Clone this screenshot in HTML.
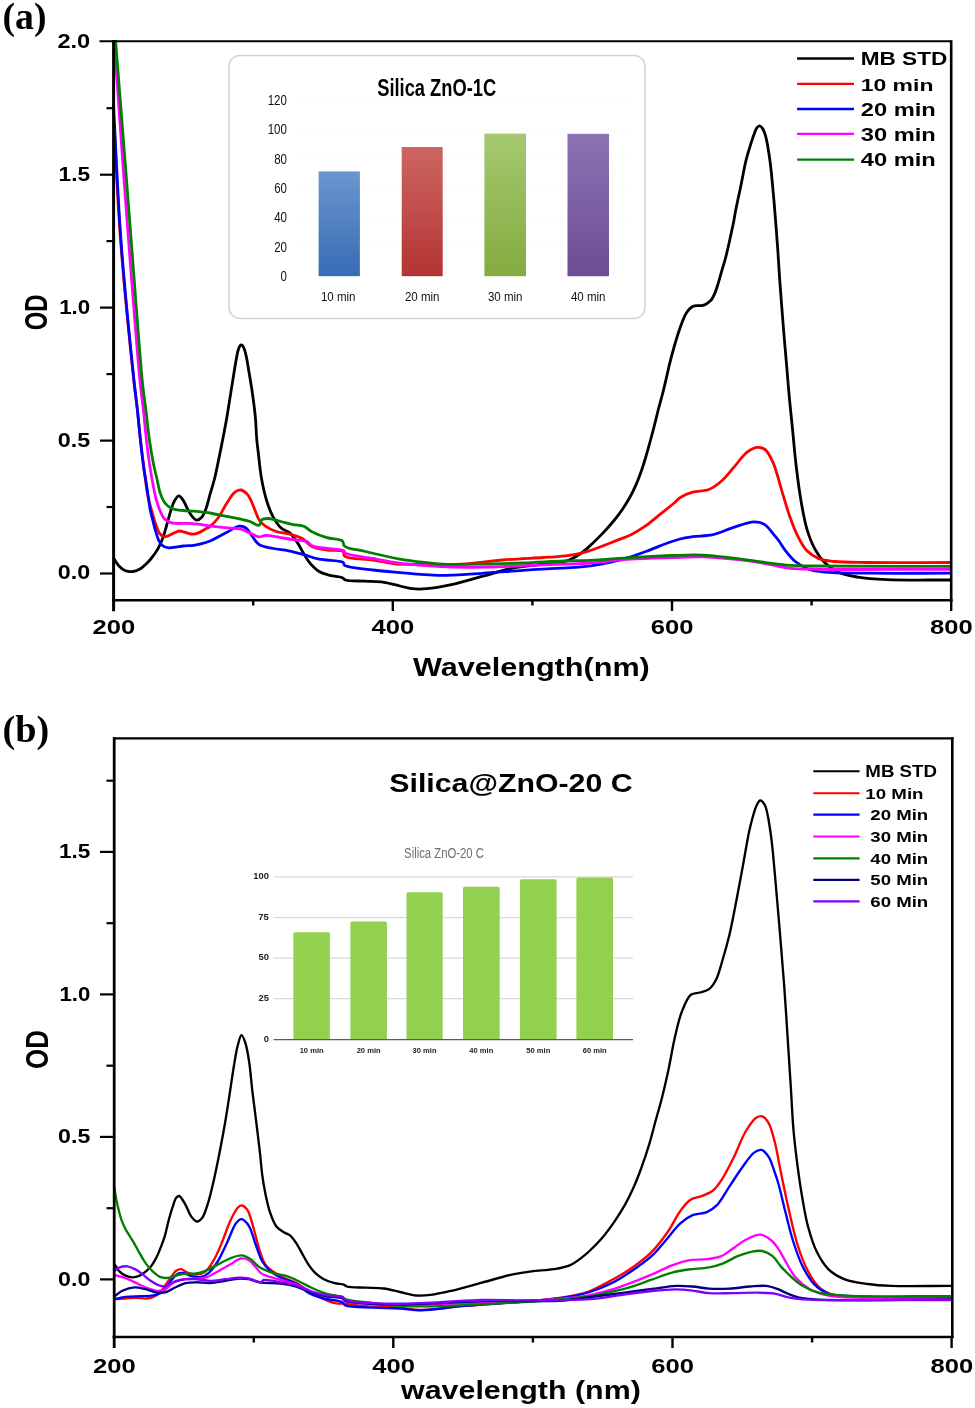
<!DOCTYPE html>
<html><head><meta charset="utf-8"><title>UV-Vis spectra</title><style>html,body{margin:0;padding:0;background:#fff;width:975px;height:1408px;overflow:hidden}svg{display:block;font-family:"Liberation Sans",sans-serif;will-change:transform}</style></head><body>
<svg width="975" height="1408" viewBox="0 0 975 1408">
<defs><linearGradient id="gb" x1="0" y1="0" x2="0" y2="1"><stop offset="0" stop-color="#6b95cf"/><stop offset="1" stop-color="#386cb4"/></linearGradient><linearGradient id="gr" x1="0" y1="0" x2="0" y2="1"><stop offset="0" stop-color="#cc6662"/><stop offset="1" stop-color="#b43433"/></linearGradient><linearGradient id="gg" x1="0" y1="0" x2="0" y2="1"><stop offset="0" stop-color="#a6c870"/><stop offset="1" stop-color="#84ab3f"/></linearGradient><linearGradient id="gp" x1="0" y1="0" x2="0" y2="1"><stop offset="0" stop-color="#8c72b2"/><stop offset="1" stop-color="#6c4d96"/></linearGradient><clipPath id="ca"><rect x="112" y="40" width="841" height="561"/></clipPath><clipPath id="cb"><rect x="112" y="737" width="842" height="601"/></clipPath></defs>
<rect width="975" height="1408" fill="#fff"/>
<rect x="229" y="55.5" width="416" height="263" rx="11" ry="11" fill="#fff" stroke="#d4d4d4" stroke-width="1.6"/>
<line x1="298" y1="100.2" x2="632" y2="100.2" stroke="#fafafa" stroke-width="1"/>
<line x1="298" y1="129.6" x2="632" y2="129.6" stroke="#fafafa" stroke-width="1"/>
<line x1="298" y1="158.9" x2="632" y2="158.9" stroke="#fafafa" stroke-width="1"/>
<line x1="298" y1="188.2" x2="632" y2="188.2" stroke="#fafafa" stroke-width="1"/>
<line x1="298" y1="217.6" x2="632" y2="217.6" stroke="#fafafa" stroke-width="1"/>
<line x1="298" y1="246.9" x2="632" y2="246.9" stroke="#fafafa" stroke-width="1"/>
<rect x="318.6" y="171.4" width="41.3" height="104.8" fill="url(#gb)"/>
<rect x="401.7" y="147" width="41.0" height="129.2" fill="url(#gr)"/>
<rect x="484.4" y="133.6" width="41.6" height="142.6" fill="url(#gg)"/>
<rect x="567.5" y="133.8" width="41.5" height="142.4" fill="url(#gp)"/>
<text transform="translate(267.71,105.06) scale(0.8200,1)" font-size="14.08" font-family='"Liberation Sans", sans-serif' font-weight="normal" fill="#111">120</text>
<text transform="translate(267.71,134.41) scale(0.8200,1)" font-size="14.08" font-family='"Liberation Sans", sans-serif' font-weight="normal" fill="#111">100</text>
<text transform="translate(274.18,163.76) scale(0.8200,1)" font-size="14.08" font-family='"Liberation Sans", sans-serif' font-weight="normal" fill="#111">80</text>
<text transform="translate(274.18,193.11) scale(0.8200,1)" font-size="14.08" font-family='"Liberation Sans", sans-serif' font-weight="normal" fill="#111">60</text>
<text transform="translate(274.18,222.46) scale(0.8200,1)" font-size="14.08" font-family='"Liberation Sans", sans-serif' font-weight="normal" fill="#111">40</text>
<text transform="translate(274.18,251.81) scale(0.8200,1)" font-size="14.08" font-family='"Liberation Sans", sans-serif' font-weight="normal" fill="#111">20</text>
<text transform="translate(280.59,281.16) scale(0.8200,1)" font-size="14.08" font-family='"Liberation Sans", sans-serif' font-weight="normal" fill="#111">0</text>
<text transform="translate(320.90,301.47) scale(0.8739,1)" font-size="13.20" font-family='"Liberation Sans", sans-serif' font-weight="normal" fill="#111">10 min</text>
<text transform="translate(404.90,301.47) scale(0.8739,1)" font-size="13.20" font-family='"Liberation Sans", sans-serif' font-weight="normal" fill="#111">20 min</text>
<text transform="translate(487.90,301.47) scale(0.8739,1)" font-size="13.20" font-family='"Liberation Sans", sans-serif' font-weight="normal" fill="#111">30 min</text>
<text transform="translate(570.90,301.47) scale(0.8739,1)" font-size="13.20" font-family='"Liberation Sans", sans-serif' font-weight="normal" fill="#111">40 min</text>
<text transform="translate(377.20,95.96) scale(0.7602,1)" font-size="24.08" font-family='"Liberation Sans", sans-serif' font-weight="bold" fill="#000">Silica ZnO-1C</text>
<g clip-path="url(#ca)" fill="none" stroke-linejoin="round" stroke-linecap="round">
<path d="M113.80,558.50 C115.60,561.07 117.15,564.09 119.20,566.20 C121.06,568.11 123.08,569.92 125.40,570.80 C127.72,571.68 130.57,571.86 133.10,571.50 C135.71,571.13 138.58,569.84 140.80,568.50 C142.82,567.28 144.34,565.58 146.00,564.00 C147.67,562.41 149.13,561.03 150.80,559.00 C153.03,556.29 155.87,552.48 157.90,548.90 C159.95,545.29 161.48,541.49 163.00,537.40 C164.65,532.94 165.95,527.75 167.30,523.10 C168.58,518.70 169.60,514.13 170.90,510.20 C172.03,506.79 172.98,503.34 174.50,500.80 C175.73,498.74 177.34,495.86 178.80,495.80 C180.21,495.75 181.80,498.29 183.10,500.10 C184.74,502.37 185.91,505.99 187.40,508.70 C188.79,511.23 190.03,513.92 191.70,515.90 C193.18,517.66 194.97,520.04 196.70,520.20 C198.32,520.35 200.28,518.82 201.70,517.30 C203.54,515.35 204.73,512.00 206.00,508.70 C207.58,504.60 208.61,499.29 210.00,494.40 C211.47,489.24 213.16,484.23 214.60,478.50 C216.26,471.88 217.80,463.66 219.20,456.90 C220.44,450.93 221.43,446.03 222.60,440.00 C223.95,433.08 225.49,425.21 226.80,417.70 C228.13,410.08 229.27,402.30 230.50,394.60 C231.73,386.90 233.13,378.03 234.20,371.50 C234.99,366.70 235.58,362.82 236.30,359.00 C236.92,355.75 237.47,352.36 238.20,350.00 C238.69,348.40 239.19,347.01 239.80,346.10 C240.20,345.50 240.63,344.88 241.10,344.80 C241.53,344.73 242.07,345.08 242.50,345.50 C243.16,346.15 243.67,347.44 244.20,348.80 C244.98,350.80 245.63,353.49 246.30,356.50 C247.22,360.66 247.98,365.96 248.90,371.50 C250.05,378.37 251.52,386.89 252.60,394.60 C253.68,402.29 254.70,410.06 255.40,417.70 C256.09,425.19 256.24,433.72 256.80,440.00 C257.21,444.62 257.62,447.22 258.20,452.00 C259.06,459.11 259.98,470.02 261.50,478.50 C262.93,486.48 264.74,494.67 266.90,501.50 C268.71,507.22 270.61,512.35 273.10,516.90 C275.33,520.97 277.78,524.94 280.80,527.70 C283.51,530.18 287.27,530.69 290.00,533.10 C292.97,535.72 295.39,539.63 297.70,543.10 C299.98,546.53 301.70,550.39 303.80,553.80 C305.80,557.05 307.53,560.22 310.00,563.10 C312.61,566.14 315.78,569.44 319.20,571.50 C322.48,573.48 326.24,574.38 330.00,575.40 C333.93,576.47 339.64,576.54 342.30,577.70 C343.78,578.34 343.79,579.41 345.40,580.00 C349.07,581.34 358.87,580.81 365.40,581.20 C371.66,581.57 377.90,581.46 383.80,582.30 C389.41,583.10 394.97,584.87 400.00,586.00 C404.38,586.98 408.01,588.23 412.30,588.70 C416.89,589.20 421.28,589.15 426.70,588.70 C433.83,588.11 442.69,586.46 451.30,584.60 C461.02,582.50 471.76,579.13 482.00,576.40 C492.26,573.66 502.47,570.25 512.80,568.20 C523.00,566.17 533.88,565.49 543.60,564.10 C552.35,562.85 561.73,562.61 568.50,560.30 C573.66,558.54 577.30,556.02 581.30,553.20 C585.37,550.33 588.96,546.70 592.70,543.20 C596.53,539.61 600.41,535.73 604.00,531.90 C607.50,528.16 610.87,524.35 614.00,520.50 C617.02,516.78 619.87,513.03 622.50,509.20 C625.06,505.46 627.44,501.65 629.60,497.80 C631.70,494.05 633.49,490.45 635.30,486.40 C637.28,481.97 639.19,476.96 640.90,472.20 C642.59,467.49 644.02,462.89 645.50,458.00 C647.06,452.84 648.52,447.42 650.00,442.00 C651.52,436.42 653.05,430.67 654.50,425.00 C655.95,419.34 657.30,413.38 658.70,408.00 C659.97,403.10 661.27,398.82 662.50,394.00 C663.80,388.90 665.06,383.45 666.30,378.20 C667.53,372.99 668.60,367.79 669.90,362.60 C671.20,357.39 672.65,352.07 674.10,347.00 C675.49,342.14 676.94,337.25 678.40,332.80 C679.71,328.80 681.05,324.87 682.40,321.50 C683.52,318.69 684.53,316.11 685.80,313.90 C686.90,312.00 688.08,310.20 689.40,308.90 C690.51,307.80 691.68,306.95 693.00,306.40 C694.32,305.85 695.86,305.73 697.30,305.60 C698.73,305.47 700.18,305.82 701.60,305.60 C703.05,305.37 704.52,304.91 705.90,304.20 C707.40,303.42 709.16,301.92 710.20,301.00 C710.86,300.41 711.16,300.17 711.70,299.40 C712.70,297.96 714.05,295.14 715.10,292.60 C716.35,289.56 717.40,285.87 718.50,282.30 C719.67,278.49 720.75,274.36 721.90,270.40 C723.05,266.43 724.33,262.49 725.40,258.50 C726.47,254.52 727.38,250.50 728.30,246.50 C729.21,242.53 730.04,238.58 730.90,234.60 C731.77,230.61 732.71,226.60 733.50,222.60 C734.28,218.63 734.83,214.66 735.60,210.70 C736.37,206.73 737.29,202.62 738.10,198.80 C738.85,195.24 739.59,191.91 740.30,188.50 C740.99,185.14 741.53,182.31 742.30,178.50 C743.32,173.44 744.55,166.33 745.90,160.80 C747.11,155.84 748.53,151.26 749.90,146.80 C751.17,142.66 752.51,138.32 753.80,134.90 C754.81,132.23 755.57,129.43 756.80,127.90 C757.63,126.87 758.66,125.84 759.60,125.90 C760.66,125.97 761.88,127.52 762.80,128.90 C764.08,130.83 764.92,133.73 765.80,136.90 C767.02,141.26 767.97,147.67 768.80,152.80 C769.58,157.58 770.12,161.76 770.70,166.70 C771.36,172.31 771.91,178.55 772.50,184.70 C773.12,191.17 773.73,197.84 774.30,204.60 C774.89,211.60 775.43,218.66 776.00,226.00 C776.60,233.77 777.22,241.69 777.80,250.00 C778.42,258.97 778.95,268.67 779.60,278.00 C780.25,287.34 780.97,296.59 781.70,306.00 C782.44,315.58 783.20,325.33 784.00,335.00 C784.80,344.67 785.66,354.10 786.50,364.00 C787.39,374.40 788.22,385.34 789.20,396.00 C790.18,406.67 791.28,416.81 792.40,428.00 C793.64,440.36 794.78,454.37 796.30,467.00 C797.74,479.00 799.28,491.09 801.20,502.00 C802.91,511.70 804.50,521.06 807.00,529.30 C809.17,536.45 811.65,543.04 814.80,548.80 C817.62,553.96 820.69,558.59 824.60,562.50 C828.49,566.39 833.00,569.80 838.20,572.20 C843.90,574.83 850.49,575.89 857.70,577.10 C866.42,578.56 875.36,579.07 887.00,579.60 C904.07,580.38 929.20,579.87 950.30,580.00" stroke="#000000" stroke-width="2.8"/>
<path d="M114.10,125.00 C116.20,162.67 117.41,198.21 120.40,238.00 C123.75,282.66 130.60,350.24 133.80,380.00 C135.27,393.68 136.30,399.94 137.40,409.90 C138.50,419.84 139.27,429.77 140.40,439.70 C141.53,449.67 142.95,460.10 144.20,469.60 C145.34,478.26 146.20,487.09 147.60,494.40 C148.73,500.29 150.10,505.08 151.50,510.20 C152.84,515.10 154.32,520.37 155.80,524.50 C156.97,527.76 157.84,530.98 159.40,533.10 C160.61,534.75 162.11,536.31 163.70,536.70 C165.22,537.07 167.01,536.19 168.70,535.60 C170.60,534.94 172.62,533.59 174.50,532.80 C176.21,532.08 177.76,531.09 179.50,531.00 C181.32,530.90 183.14,531.91 185.20,532.40 C187.62,532.97 190.60,534.26 193.10,534.20 C195.38,534.15 197.62,533.23 199.60,532.40 C201.43,531.63 202.90,530.49 204.60,529.50 C206.37,528.46 208.14,527.75 210.00,526.30 C212.46,524.38 215.21,521.72 217.70,518.50 C220.89,514.38 223.88,507.72 226.90,503.10 C229.50,499.12 231.82,494.43 234.60,492.30 C236.56,490.80 238.79,489.80 240.80,490.00 C242.90,490.21 245.33,492.27 246.90,493.80 C248.29,495.16 248.95,496.56 250.00,498.50 C251.51,501.29 253.07,505.62 254.60,509.20 C256.14,512.79 257.21,517.05 259.20,520.00 C260.92,522.55 262.87,524.39 265.40,526.20 C268.36,528.32 272.39,530.24 276.20,531.50 C280.08,532.79 284.32,532.70 288.50,533.80 C293.01,534.98 298.34,536.27 302.30,538.50 C305.89,540.52 307.78,544.31 311.50,546.20 C315.77,548.37 321.67,549.12 326.90,550.00 C332.20,550.89 340.60,549.49 343.10,551.50 C344.48,552.61 343.09,554.94 344.60,556.20 C348.24,559.25 363.75,558.63 373.10,560.00 C382.20,561.33 391.62,563.68 400.00,564.30 C407.27,564.84 412.49,564.14 420.50,564.10 C431.82,564.04 447.84,564.78 461.50,564.10 C475.21,563.42 488.90,561.10 502.60,560.00 C516.26,558.90 533.01,558.21 543.60,557.50 C550.30,557.05 554.74,556.81 560.00,556.30 C564.91,555.83 569.49,555.46 574.20,554.60 C578.96,553.73 583.70,552.50 588.40,551.10 C593.17,549.68 597.89,547.88 602.60,546.10 C607.35,544.31 612.07,542.30 616.80,540.40 C621.53,538.50 626.36,537.00 631.00,534.70 C635.83,532.30 640.57,529.42 645.20,526.20 C650.05,522.82 654.66,518.59 659.40,514.80 C664.13,511.02 669.78,506.72 673.60,503.50 C676.29,501.23 677.56,499.25 680.30,497.50 C683.64,495.36 688.12,493.51 692.60,492.20 C697.59,490.74 704.11,491.43 709.00,489.50 C713.61,487.68 717.36,484.72 721.30,481.30 C725.81,477.39 729.98,471.71 734.20,466.90 C738.37,462.15 742.24,455.94 746.50,452.60 C749.83,449.99 753.50,447.76 756.80,447.40 C759.63,447.09 762.57,447.71 765.00,449.50 C768.30,451.93 770.74,457.38 773.20,462.80 C776.54,470.17 778.93,481.40 781.70,490.40 C784.36,499.02 786.73,507.87 789.50,515.70 C791.97,522.68 794.26,529.19 797.30,535.20 C800.15,540.82 803.11,546.79 807.00,550.80 C810.40,554.31 814.32,556.82 818.70,558.60 C823.36,560.49 828.10,560.83 834.30,561.50 C843.27,562.46 853.95,562.30 867.50,562.50 C888.90,562.82 922.70,562.50 950.30,562.50" stroke="#ff0000" stroke-width="2.8"/>
<path d="M113.50,105.00 C115.93,149.33 117.49,192.97 120.80,238.00 C124.23,284.59 130.79,350.24 133.90,380.00 C135.33,393.68 136.32,399.94 137.40,409.90 C138.48,419.84 139.32,429.76 140.40,439.70 C141.48,449.66 142.83,462.22 143.90,469.60 C144.53,473.97 145.09,476.25 145.70,480.00 C146.42,484.41 147.18,489.61 147.90,494.40 C148.62,499.17 149.15,504.29 150.00,508.70 C150.75,512.57 151.67,515.80 152.60,519.50 C153.59,523.45 154.61,527.86 155.80,531.70 C156.89,535.22 157.83,539.10 159.40,541.70 C160.61,543.71 162.05,545.39 163.70,546.40 C165.19,547.32 166.87,547.64 168.70,547.80 C170.87,547.99 173.50,547.40 175.90,547.10 C178.30,546.80 180.46,546.29 183.10,546.00 C186.31,545.65 190.60,545.71 193.80,545.30 C196.45,544.96 198.49,544.55 201.00,543.90 C203.85,543.17 206.66,542.38 210.00,541.00 C214.52,539.13 220.40,535.63 225.40,533.10 C230.12,530.71 235.34,526.60 239.20,526.20 C241.80,525.93 244.00,526.65 246.00,528.00 C248.38,529.61 249.87,533.31 252.00,536.00 C254.26,538.84 256.01,542.54 259.20,544.60 C262.82,546.94 268.31,547.48 273.10,548.50 C278.07,549.56 283.40,549.79 288.50,550.80 C293.63,551.82 298.71,553.21 303.80,554.60 C308.94,556.01 313.45,557.98 319.20,559.20 C326.24,560.70 339.95,560.03 343.10,562.30 C344.29,563.16 343.39,564.50 344.60,565.40 C348.11,568.02 363.72,568.77 373.10,570.00 C382.18,571.19 391.64,571.93 400.00,572.70 C407.29,573.37 413.66,573.95 420.50,574.40 C427.33,574.85 432.99,575.41 441.00,575.40 C452.32,575.39 468.34,574.15 482.00,573.30 C495.67,572.45 509.68,571.17 523.00,570.30 C535.65,569.48 549.36,568.85 560.00,568.20 C568.08,567.71 574.21,567.53 581.30,566.80 C588.41,566.07 595.53,565.11 602.60,563.80 C609.73,562.48 616.85,560.88 623.90,558.90 C631.05,556.89 638.85,554.13 645.20,551.80 C650.44,549.88 654.20,548.04 659.40,546.10 C665.60,543.79 673.92,540.59 680.00,539.00 C684.66,537.78 687.88,537.37 692.60,536.70 C698.59,535.85 706.35,536.11 713.10,534.60 C720.03,533.05 726.73,529.53 733.60,527.40 C740.39,525.30 748.42,521.97 754.10,521.90 C758.11,521.85 761.24,522.52 764.40,524.40 C768.18,526.64 771.94,532.51 774.60,535.60 C776.41,537.70 777.44,538.89 779.00,541.00 C781.04,543.74 783.06,547.55 785.60,550.80 C788.41,554.39 791.51,558.46 795.30,561.50 C799.26,564.68 804.13,567.52 809.00,569.30 C813.89,571.09 818.08,571.52 824.60,572.20 C835.33,573.31 850.87,573.01 867.50,573.20 C890.60,573.47 922.70,573.20 950.30,573.20" stroke="#0000ff" stroke-width="2.8"/>
<path d="M114.20,40.00 C117.10,81.33 120.06,124.89 122.90,164.00 C125.45,199.13 127.69,229.44 130.40,264.00 C133.32,301.24 137.31,353.97 139.90,380.00 C141.22,393.24 142.32,399.94 143.40,409.90 C144.48,419.84 145.31,430.22 146.40,439.70 C147.39,448.38 148.52,457.30 149.60,464.60 C150.46,470.36 151.22,474.68 152.20,480.00 C153.26,485.75 154.36,492.45 155.80,497.90 C157.05,502.62 158.48,507.17 160.10,510.90 C161.41,513.93 162.55,516.84 164.40,518.80 C166.01,520.51 168.20,521.64 170.20,522.40 C172.04,523.10 173.69,523.21 175.90,523.40 C178.92,523.66 183.11,523.28 186.70,523.40 C190.28,523.52 193.70,523.71 197.40,524.10 C201.44,524.52 205.59,525.33 210.00,525.90 C214.87,526.53 220.26,527.15 225.40,527.70 C230.53,528.25 236.40,528.08 240.80,529.20 C244.34,530.10 246.93,531.82 250.00,533.10 C253.06,534.38 256.40,536.68 259.20,536.90 C261.44,537.07 262.86,535.51 265.40,535.40 C269.37,535.22 275.67,536.93 280.80,537.70 C285.93,538.47 291.53,539.32 296.20,540.00 C300.09,540.56 304.20,540.29 306.90,541.50 C308.92,542.40 309.34,544.35 311.50,545.40 C314.99,547.09 321.63,547.61 326.90,548.50 C332.39,549.42 341.24,549.23 343.80,550.80 C344.84,551.44 344.30,552.38 345.40,553.10 C348.90,555.38 363.92,556.82 373.10,558.50 C382.12,560.15 391.62,561.98 400.00,563.10 C407.28,564.08 413.66,564.52 420.50,565.10 C427.33,565.68 432.99,566.25 441.00,566.60 C452.32,567.10 468.34,567.35 482.00,567.20 C495.67,567.05 509.33,566.22 523.00,565.70 C536.69,565.18 551.97,564.59 564.10,564.10 C573.73,563.71 580.39,563.65 590.00,563.00 C602.11,562.18 617.32,560.10 631.00,559.20 C644.65,558.30 659.31,558.01 672.00,557.60 C683.00,557.24 692.54,556.53 702.80,556.80 C713.07,557.07 723.35,558.12 733.60,559.20 C743.88,560.28 754.63,561.70 764.40,563.30 C773.35,564.77 781.18,567.29 790.00,568.30 C799.25,569.36 805.65,569.07 818.70,569.30 C846.63,569.79 906.43,569.30 950.30,569.30" stroke="#ff00ff" stroke-width="2.8"/>
<path d="M115.50,40.00 C118.77,81.33 122.25,124.89 125.30,164.00 C128.04,199.12 130.26,229.15 133.00,264.00 C136.00,302.18 139.97,358.64 142.60,384.00 C143.82,395.81 144.81,400.96 145.90,409.90 C147.07,419.48 148.05,430.23 149.40,439.70 C150.64,448.39 152.14,457.31 153.60,464.60 C154.76,470.37 156.07,475.09 157.20,480.00 C158.23,484.49 158.79,489.00 160.10,492.90 C161.26,496.35 162.72,499.88 164.40,502.30 C165.69,504.15 167.05,505.43 168.70,506.60 C170.40,507.81 172.32,508.75 174.50,509.40 C177.03,510.15 180.07,510.21 183.10,510.50 C186.47,510.83 190.23,510.90 193.80,511.20 C197.39,511.50 201.62,511.96 204.60,512.30 C206.71,512.54 207.75,512.62 210.00,513.00 C213.83,513.64 220.26,515.17 225.40,516.20 C230.53,517.23 236.34,518.21 240.80,519.20 C244.27,519.97 246.97,520.49 250.00,521.50 C253.11,522.54 257.30,526.17 259.20,525.40 C260.65,524.81 260.09,521.16 261.50,520.00 C263.05,518.72 265.84,518.46 268.50,518.50 C272.03,518.55 276.70,520.48 280.80,521.50 C284.90,522.52 289.12,523.80 293.10,524.60 C296.77,525.34 300.65,524.96 303.80,526.20 C306.73,527.35 308.38,529.83 311.50,531.50 C315.65,533.73 321.69,536.14 326.90,537.70 C331.96,539.22 339.57,538.58 342.30,540.80 C343.97,542.16 342.85,544.70 344.60,546.20 C347.94,549.07 357.57,549.64 365.40,551.50 C375.46,553.89 389.94,557.29 400.00,559.10 C407.69,560.49 413.66,561.17 420.50,562.00 C427.33,562.83 432.98,563.69 441.00,564.10 C452.31,564.68 468.33,564.28 482.00,564.10 C495.67,563.92 509.33,563.52 523.00,563.00 C536.69,562.48 551.97,561.46 564.10,561.00 C573.72,560.64 580.38,560.75 590.00,560.30 C602.11,559.74 617.33,558.40 631.00,557.60 C644.66,556.80 659.31,555.91 672.00,555.50 C683.00,555.15 692.55,554.65 702.80,555.10 C713.08,555.55 723.34,557.00 733.60,558.20 C743.88,559.40 754.66,561.05 764.40,562.30 C773.19,563.43 781.65,564.80 789.50,565.40 C796.40,565.93 799.52,565.84 809.00,566.00 C834.51,566.43 903.20,566.27 950.30,566.40" stroke="#008000" stroke-width="2.8"/>
</g>
<g stroke="#000" fill="none">
<line x1="99.5" y1="41.2" x2="951.5" y2="41.2" stroke-width="1.9"/>
<line x1="951.2" y1="40.3" x2="951.2" y2="601.5" stroke-width="2.6"/>
<line x1="112.1" y1="600.3" x2="952.5" y2="600.3" stroke-width="2.5"/>
<line x1="113.6" y1="40.3" x2="113.6" y2="611.2" stroke-width="3"/>
<line x1="100" y1="573.5" x2="113" y2="573.5" stroke-width="2.2"/>
<line x1="100" y1="440.6" x2="113" y2="440.6" stroke-width="2.2"/>
<line x1="100" y1="307.6" x2="113" y2="307.6" stroke-width="2.2"/>
<line x1="100" y1="174.7" x2="113" y2="174.7" stroke-width="2.2"/>
<line x1="106.5" y1="507.0" x2="113" y2="507.0" stroke-width="2.2"/>
<line x1="106.5" y1="374.1" x2="113" y2="374.1" stroke-width="2.2"/>
<line x1="106.5" y1="241.1" x2="113" y2="241.1" stroke-width="2.2"/>
<line x1="106.5" y1="108.2" x2="113" y2="108.2" stroke-width="2.2"/>
<line x1="392.8" y1="600" x2="392.8" y2="611" stroke-width="2.4"/>
<line x1="672.0" y1="600" x2="672.0" y2="611" stroke-width="2.4"/>
<line x1="951.2" y1="600" x2="951.2" y2="611" stroke-width="2.4"/>
<line x1="253.2" y1="600" x2="253.2" y2="605.5" stroke-width="2.4"/>
<line x1="532.4" y1="600" x2="532.4" y2="605.5" stroke-width="2.4"/>
<line x1="811.6" y1="600" x2="811.6" y2="605.5" stroke-width="2.4"/>
</g>
<text transform="translate(57.40,47.65) scale(1.2053,1)" font-size="19.58" font-family='"Liberation Sans", sans-serif' font-weight="bold" fill="#000">2.0</text>
<text transform="translate(58.60,180.60) scale(1.1449,1)" font-size="19.86" font-family='"Liberation Sans", sans-serif' font-weight="bold" fill="#000">1.5</text>
<text transform="translate(59.20,313.55) scale(1.1392,1)" font-size="19.58" font-family='"Liberation Sans", sans-serif' font-weight="bold" fill="#000">1.0</text>
<text transform="translate(57.80,446.50) scale(1.1906,1)" font-size="19.58" font-family='"Liberation Sans", sans-serif' font-weight="bold" fill="#000">0.5</text>
<text transform="translate(57.80,579.45) scale(1.1906,1)" font-size="19.58" font-family='"Liberation Sans", sans-serif' font-weight="bold" fill="#000">0.0</text>
<text transform="translate(92.42,634.40) scale(1.2800,1)" font-size="20.00" font-family='"Liberation Sans", sans-serif' font-weight="bold" fill="#000">200</text>
<text transform="translate(371.62,634.40) scale(1.2800,1)" font-size="20.00" font-family='"Liberation Sans", sans-serif' font-weight="bold" fill="#000">400</text>
<text transform="translate(650.82,634.40) scale(1.2800,1)" font-size="20.00" font-family='"Liberation Sans", sans-serif' font-weight="bold" fill="#000">600</text>
<text transform="translate(930.02,634.40) scale(1.2800,1)" font-size="20.00" font-family='"Liberation Sans", sans-serif' font-weight="bold" fill="#000">800</text>
<text transform="translate(412.90,676.25) scale(1.2029,1)" font-size="25.45" font-family='"Liberation Sans", sans-serif' font-weight="bold" fill="#000">Wavelength(nm)</text>
<text transform="translate(47.08,330.30) rotate(-90) scale(0.7552,1)" font-size="31.69" font-family='"Liberation Sans", sans-serif' font-weight="bold" fill="#000">OD</text>
<text transform="translate(2.50,29.23) scale(0.9820,1)" font-size="38.46" font-family='"Liberation Serif", serif' font-weight="bold" fill="#000">(a)</text>
<line x1="797.1" y1="58.5" x2="854" y2="58.5" stroke="#000000" stroke-width="2.3"/>
<text transform="translate(860.70,64.82) scale(1.2443,1)" font-size="18.17" font-family='"Liberation Sans", sans-serif' font-weight="bold" fill="#000">MB STD</text>
<line x1="797.1" y1="83.9" x2="854" y2="83.9" stroke="#ff0000" stroke-width="2.3"/>
<text transform="translate(860.70,90.53) scale(1.3291,1)" font-size="17.28" font-family='"Liberation Sans", sans-serif' font-weight="bold" fill="#000">10 min</text>
<line x1="797.1" y1="109" x2="854" y2="109" stroke="#0000ff" stroke-width="2.3"/>
<text transform="translate(860.70,115.52) scale(1.3209,1)" font-size="17.96" font-family='"Liberation Sans", sans-serif' font-weight="bold" fill="#000">20 min</text>
<line x1="797.1" y1="133.8" x2="854" y2="133.8" stroke="#ff00ff" stroke-width="2.3"/>
<text transform="translate(860.70,140.92) scale(1.2916,1)" font-size="18.37" font-family='"Liberation Sans", sans-serif' font-weight="bold" fill="#000">30 min</text>
<line x1="797.1" y1="159.7" x2="854" y2="159.7" stroke="#008000" stroke-width="2.3"/>
<text transform="translate(860.70,166.32) scale(1.3209,1)" font-size="17.96" font-family='"Liberation Sans", sans-serif' font-weight="bold" fill="#000">40 min</text>
<text transform="translate(389.30,792.49) scale(1.2081,1)" font-size="25.08" font-family='"Liberation Sans", sans-serif' font-weight="bold" fill="#000">Silica@ZnO-20 C</text>
<text transform="translate(404.10,858.46) scale(0.8226,1)" font-size="13.74" font-family='"Liberation Sans", sans-serif' font-weight="normal" fill="#6f6f6f">Silica ZnO-20 C</text>
<line x1="273.5" y1="876.9" x2="633" y2="876.9" stroke="#d9d9d9" stroke-width="1.3"/>
<line x1="273.5" y1="917.7" x2="633" y2="917.7" stroke="#d9d9d9" stroke-width="1.3"/>
<line x1="273.5" y1="958.2" x2="633" y2="958.2" stroke="#d9d9d9" stroke-width="1.3"/>
<line x1="273.5" y1="998.7" x2="633" y2="998.7" stroke="#d9d9d9" stroke-width="1.3"/>
<path d="M293.4,1039.5 L293.4,933.8 Q293.4,932.3 294.9,932.3 L328.4,932.3 Q329.9,932.3 329.9,933.8 L329.9,1039.5 Z" fill="#92d050"/>
<path d="M350.4,1039.5 L350.4,923.0 Q350.4,921.5 351.9,921.5 L385.4,921.5 Q386.9,921.5 386.9,923.0 L386.9,1039.5 Z" fill="#92d050"/>
<path d="M406.5,1039.5 L406.5,893.8 Q406.5,892.3 408.0,892.3 L441.2,892.3 Q442.7,892.3 442.7,893.8 L442.7,1039.5 Z" fill="#92d050"/>
<path d="M463,1039.5 L463,888.2 Q463,886.7 464.5,886.7 L498.2,886.7 Q499.7,886.7 499.7,888.2 L499.7,1039.5 Z" fill="#92d050"/>
<path d="M520,1039.5 L520,880.8 Q520,879.3 521.5,879.3 L555.1,879.3 Q556.6,879.3 556.6,880.8 L556.6,1039.5 Z" fill="#92d050"/>
<path d="M576.4,1039.5 L576.4,879.1 Q576.4,877.6 577.9,877.6 L611.5,877.6 Q613,877.6 613,879.1 L613,1039.5 Z" fill="#92d050"/>
<line x1="273.5" y1="1039.6" x2="633" y2="1039.6" stroke="#5a5a5a" stroke-width="1.3"/>
<text transform="translate(253.21,878.52) scale(1.1500,1)" font-size="8.17" font-family='"Liberation Sans", sans-serif' font-weight="bold" fill="#222">100</text>
<text transform="translate(258.32,919.92) scale(1.1500,1)" font-size="8.29" font-family='"Liberation Sans", sans-serif' font-weight="bold" fill="#222">75</text>
<text transform="translate(258.47,960.42) scale(1.1500,1)" font-size="8.17" font-family='"Liberation Sans", sans-serif' font-weight="bold" fill="#222">50</text>
<text transform="translate(258.47,1000.92) scale(1.1500,1)" font-size="8.17" font-family='"Liberation Sans", sans-serif' font-weight="bold" fill="#222">25</text>
<text transform="translate(263.69,1041.62) scale(1.1500,1)" font-size="8.17" font-family='"Liberation Sans", sans-serif' font-weight="bold" fill="#222">0</text>
<text transform="translate(299.65,1053.02) scale(0.9432,1)" font-size="8.03" font-family='"Liberation Sans", sans-serif' font-weight="bold" fill="#222">10 min</text>
<text transform="translate(356.65,1053.02) scale(0.9432,1)" font-size="8.03" font-family='"Liberation Sans", sans-serif' font-weight="bold" fill="#222">20 min</text>
<text transform="translate(412.60,1053.02) scale(0.9432,1)" font-size="8.03" font-family='"Liberation Sans", sans-serif' font-weight="bold" fill="#222">30 min</text>
<text transform="translate(469.35,1053.02) scale(0.9432,1)" font-size="8.03" font-family='"Liberation Sans", sans-serif' font-weight="bold" fill="#222">40 min</text>
<text transform="translate(526.30,1053.02) scale(0.9432,1)" font-size="8.03" font-family='"Liberation Sans", sans-serif' font-weight="bold" fill="#222">50 min</text>
<text transform="translate(582.70,1053.02) scale(0.9432,1)" font-size="8.03" font-family='"Liberation Sans", sans-serif' font-weight="bold" fill="#222">60 min</text>
<g clip-path="url(#cb)" fill="none" stroke-linejoin="round" stroke-linecap="round">
<path d="M114.30,1264.40 C114.97,1265.17 115.59,1265.77 116.30,1266.70 C117.26,1267.96 118.02,1269.99 119.40,1271.40 C121.00,1273.04 123.36,1274.72 125.60,1275.70 C127.80,1276.67 130.34,1277.30 132.70,1277.30 C135.04,1277.30 137.52,1276.66 139.70,1275.70 C141.93,1274.72 143.96,1273.02 145.90,1271.40 C147.87,1269.76 149.69,1268.10 151.40,1265.90 C153.41,1263.31 155.32,1259.77 156.90,1256.60 C158.44,1253.53 159.54,1250.47 160.80,1247.20 C162.14,1243.72 163.49,1240.30 164.70,1236.30 C166.13,1231.57 167.25,1225.60 168.60,1220.60 C169.85,1215.97 171.09,1211.35 172.50,1207.30 C173.72,1203.78 174.86,1199.37 176.40,1197.60 C177.26,1196.62 178.19,1195.78 179.20,1196.00 C181.03,1196.40 183.46,1201.39 185.40,1204.60 C187.60,1208.25 189.19,1213.94 191.50,1216.90 C193.16,1219.02 195.07,1221.42 196.90,1221.50 C198.67,1221.58 200.70,1219.75 202.30,1217.70 C204.89,1214.37 206.90,1206.48 208.50,1201.50 C209.82,1197.38 210.47,1194.19 211.50,1190.00 C212.73,1184.98 213.97,1179.54 215.30,1173.40 C216.94,1165.80 218.82,1156.54 220.50,1147.80 C222.26,1138.66 224.02,1129.08 225.60,1119.70 C227.18,1110.34 228.59,1100.75 230.00,1091.60 C231.35,1082.87 232.54,1074.04 233.90,1066.00 C235.12,1058.80 236.17,1051.23 237.70,1045.60 C238.82,1041.47 240.13,1035.18 241.50,1035.10 C242.72,1035.03 244.28,1039.70 245.40,1043.00 C247.07,1047.92 248.11,1055.09 249.20,1062.20 C250.54,1070.93 251.23,1081.70 252.40,1091.60 C253.59,1101.73 255.03,1111.97 256.30,1122.30 C257.60,1132.83 259.04,1144.65 260.10,1154.20 C260.97,1161.98 261.37,1168.60 262.30,1175.40 C263.17,1181.76 264.13,1187.68 265.40,1193.80 C266.69,1199.98 268.05,1206.65 270.00,1212.30 C271.74,1217.35 273.52,1222.73 276.20,1226.20 C278.34,1228.98 281.31,1230.71 283.80,1232.30 C285.90,1233.65 288.09,1233.86 290.00,1235.40 C292.29,1237.24 294.25,1240.24 296.20,1243.10 C298.38,1246.30 300.26,1250.23 302.30,1253.80 C304.36,1257.39 306.32,1261.38 308.50,1264.60 C310.44,1267.46 312.18,1269.95 314.60,1272.30 C317.22,1274.85 320.47,1277.40 323.80,1279.20 C327.13,1281.00 331.10,1282.19 334.60,1283.10 C337.75,1283.92 341.60,1283.78 343.80,1284.60 C345.17,1285.11 345.35,1286.01 346.90,1286.50 C350.41,1287.61 359.24,1287.37 365.40,1287.70 C371.54,1288.03 377.89,1287.74 383.80,1288.50 C389.40,1289.22 394.58,1290.84 400.00,1292.00 C405.45,1293.17 411.08,1295.05 416.40,1295.50 C421.33,1295.92 425.60,1295.52 430.80,1294.90 C437.06,1294.15 443.81,1292.55 451.30,1290.80 C460.53,1288.65 471.76,1285.33 482.00,1282.60 C492.26,1279.86 503.79,1276.35 512.80,1274.40 C519.71,1272.90 524.82,1272.14 531.30,1271.30 C538.42,1270.37 546.92,1270.37 553.80,1269.20 C559.77,1268.19 565.37,1267.28 570.30,1265.10 C574.90,1263.07 579.09,1259.57 582.60,1256.90 C585.46,1254.73 587.29,1253.07 590.00,1250.50 C593.65,1247.03 598.34,1242.36 602.30,1237.70 C606.56,1232.69 610.79,1226.85 614.60,1221.30 C618.31,1215.91 621.78,1210.44 624.90,1204.90 C627.93,1199.51 630.48,1194.33 633.10,1188.50 C635.97,1182.10 638.67,1175.19 641.30,1168.00 C644.16,1160.19 647.07,1151.37 649.50,1143.30 C651.80,1135.66 653.58,1128.15 655.60,1120.80 C657.54,1113.73 659.47,1107.54 661.40,1100.00 C663.67,1091.13 666.01,1081.00 668.20,1070.90 C670.56,1060.00 672.54,1047.25 675.00,1036.80 C677.12,1027.78 678.86,1019.19 681.80,1011.80 C684.33,1005.43 687.09,997.78 690.90,994.80 C693.56,992.72 696.99,993.44 700.00,992.50 C703.06,991.54 706.52,991.04 709.10,989.10 C711.89,987.01 713.90,983.84 715.90,980.00 C718.66,974.70 720.53,966.70 722.70,959.50 C725.08,951.61 727.36,943.51 729.50,934.50 C731.97,924.07 734.15,912.04 736.40,900.50 C738.72,888.58 740.93,876.23 743.20,864.10 C745.47,851.97 747.42,838.35 750.00,827.70 C752.07,819.18 754.50,809.55 756.80,805.00 C757.92,802.78 758.92,800.60 760.20,800.50 C761.57,800.40 763.47,802.57 764.80,805.00 C767.57,810.06 768.91,822.12 770.50,832.30 C772.48,845.01 773.56,860.41 775.00,875.50 C776.58,892.07 778.01,909.93 779.50,927.70 C781.05,946.23 782.64,964.70 784.10,984.50 C785.69,1006.19 787.34,1033.37 788.60,1052.70 C789.53,1066.99 790.21,1077.43 791.00,1090.00 C791.81,1102.85 792.31,1116.36 793.40,1129.00 C794.44,1141.02 795.81,1152.58 797.30,1164.10 C798.75,1175.31 800.35,1186.52 802.20,1197.20 C803.94,1207.29 805.47,1217.18 808.00,1226.50 C810.40,1235.33 813.09,1244.35 816.80,1251.80 C820.09,1258.41 823.74,1264.68 828.50,1269.30 C832.95,1273.63 838.13,1276.69 844.10,1279.10 C850.90,1281.85 859.66,1282.87 867.50,1284.00 C875.26,1285.12 881.28,1285.51 890.90,1285.90 C906.34,1286.53 931.17,1285.90 951.30,1285.90" stroke="#000000" stroke-width="2.35"/>
<path d="M114.60,1299.20 C118.20,1298.97 121.80,1298.75 125.40,1298.50 C129.00,1298.25 132.61,1297.70 136.20,1297.70 C139.78,1297.70 143.50,1298.92 146.90,1298.50 C150.15,1298.10 153.44,1297.12 156.20,1295.40 C159.10,1293.59 161.51,1290.50 163.80,1287.70 C166.12,1284.87 167.87,1281.39 170.00,1278.50 C172.01,1275.77 174.06,1272.31 176.20,1270.80 C177.70,1269.74 179.18,1269.09 180.80,1269.20 C182.72,1269.33 184.60,1271.44 186.90,1272.30 C189.62,1273.31 193.13,1274.73 196.20,1274.60 C199.29,1274.47 202.63,1273.56 205.40,1271.50 C208.95,1268.86 211.87,1263.27 214.60,1258.50 C217.56,1253.34 219.82,1247.43 222.30,1241.50 C224.96,1235.14 227.21,1227.46 230.00,1221.50 C232.40,1216.38 235.25,1210.24 237.70,1207.70 C239.00,1206.35 240.14,1205.35 241.50,1205.40 C243.16,1205.46 245.50,1207.51 246.90,1209.20 C248.39,1210.99 248.97,1213.21 250.00,1216.00 C251.54,1220.17 253.09,1226.58 254.60,1232.00 C256.16,1237.57 257.37,1243.51 259.20,1249.00 C260.99,1254.36 262.66,1260.67 265.40,1264.60 C267.55,1267.68 270.20,1269.40 273.10,1271.50 C276.27,1273.80 280.04,1275.80 283.80,1277.70 C287.73,1279.68 292.15,1280.97 296.20,1283.10 C300.39,1285.31 304.52,1288.42 308.50,1290.80 C312.17,1292.99 315.24,1294.98 319.20,1296.90 C323.80,1299.12 329.84,1302.02 334.60,1303.10 C338.44,1303.97 341.26,1303.42 345.40,1303.80 C351.05,1304.32 357.81,1305.58 365.40,1306.20 C375.35,1307.01 389.98,1306.92 400.00,1307.70 C407.73,1308.30 412.49,1309.92 420.50,1310.00 C431.82,1310.11 447.82,1307.35 461.50,1306.20 C475.19,1305.05 488.91,1304.13 502.60,1303.10 C516.28,1302.07 530.93,1301.40 543.60,1300.00 C554.62,1298.78 565.91,1297.33 574.40,1295.50 C580.53,1294.17 584.55,1293.12 590.00,1291.00 C596.48,1288.48 603.74,1284.50 610.50,1280.80 C617.41,1277.02 624.32,1273.15 631.00,1268.50 C638.00,1263.63 645.34,1258.26 651.50,1252.10 C657.68,1245.93 663.11,1238.53 668.00,1231.50 C672.65,1224.81 676.11,1216.66 680.30,1211.00 C683.64,1206.49 686.56,1202.28 690.50,1199.70 C694.14,1197.32 698.93,1197.19 702.80,1195.60 C706.44,1194.10 710.09,1192.92 713.10,1190.50 C716.31,1187.92 718.49,1184.52 721.30,1180.30 C725.24,1174.38 729.63,1165.62 733.60,1157.70 C737.85,1149.24 741.55,1138.17 745.90,1131.00 C749.19,1125.58 752.83,1119.85 756.20,1117.70 C758.26,1116.39 760.41,1115.73 762.30,1116.30 C764.57,1116.98 766.71,1119.82 768.50,1122.80 C771.13,1127.19 772.74,1134.29 774.60,1141.30 C776.95,1150.18 778.53,1161.05 780.80,1172.00 C783.42,1184.64 786.57,1200.13 789.50,1212.80 C792.07,1223.92 794.22,1234.23 797.30,1244.00 C800.13,1252.97 803.14,1261.82 807.00,1269.30 C810.41,1275.91 814.06,1282.57 818.70,1286.90 C822.71,1290.64 826.92,1293.03 832.40,1294.70 C839.36,1296.82 846.59,1296.12 857.70,1296.60 C879.03,1297.51 920.10,1297.27 951.30,1297.60" stroke="#ff0000" stroke-width="2.35"/>
<path d="M114.60,1299.20 C118.20,1298.43 121.46,1297.41 125.40,1296.90 C130.06,1296.30 135.96,1296.47 140.80,1296.20 C145.13,1295.96 149.34,1296.14 153.10,1295.40 C156.44,1294.74 159.51,1294.32 162.30,1292.30 C165.81,1289.76 168.62,1283.32 171.50,1280.00 C173.67,1277.49 175.44,1274.89 177.70,1273.80 C179.59,1272.89 181.69,1272.81 183.80,1273.10 C186.26,1273.43 188.76,1275.56 191.50,1276.20 C194.40,1276.88 197.92,1277.46 200.80,1276.90 C203.57,1276.36 206.03,1275.09 208.50,1273.10 C211.74,1270.48 214.85,1265.98 217.70,1261.50 C221.06,1256.22 223.87,1249.38 226.90,1243.10 C230.04,1236.59 233.01,1226.99 236.20,1223.10 C237.94,1220.97 239.72,1219.21 241.50,1219.20 C243.29,1219.19 245.46,1221.57 246.90,1223.10 C248.25,1224.53 248.93,1225.76 250.00,1228.00 C251.95,1232.07 254.07,1240.42 256.20,1246.20 C258.18,1251.55 259.75,1257.20 262.30,1261.50 C264.49,1265.18 266.98,1268.13 270.00,1270.80 C273.12,1273.55 276.77,1275.64 280.80,1277.70 C285.38,1280.04 291.36,1281.14 296.20,1283.80 C301.11,1286.49 305.21,1291.32 310.00,1293.80 C314.43,1296.10 318.82,1297.15 323.80,1298.50 C329.47,1300.04 338.85,1300.44 342.30,1302.30 C343.96,1303.20 343.62,1304.57 345.40,1305.40 C349.89,1307.48 363.93,1307.18 373.10,1307.70 C382.13,1308.21 391.65,1308.01 400.00,1308.50 C407.30,1308.93 412.50,1310.35 420.50,1310.30 C431.82,1310.23 447.82,1307.40 461.50,1306.20 C475.18,1305.00 488.91,1304.13 502.60,1303.10 C516.28,1302.07 530.93,1301.32 543.60,1300.00 C554.62,1298.85 565.90,1297.52 574.40,1295.90 C580.51,1294.73 584.51,1293.78 590.00,1292.00 C596.43,1289.92 603.80,1287.12 610.50,1283.80 C617.47,1280.34 624.28,1276.01 631.00,1271.50 C637.95,1266.84 645.29,1261.89 651.50,1256.20 C657.61,1250.60 662.93,1243.51 668.00,1237.70 C672.43,1232.62 675.91,1227.19 680.30,1223.30 C684.18,1219.86 688.15,1216.97 692.60,1215.10 C697.02,1213.24 702.69,1213.92 706.90,1212.10 C710.81,1210.41 713.92,1208.26 717.20,1204.90 C721.57,1200.43 725.40,1192.56 729.50,1186.40 C733.60,1180.26 737.57,1173.78 741.80,1168.00 C745.79,1162.55 750.16,1155.46 754.10,1152.60 C756.56,1150.81 759.03,1149.44 761.30,1149.90 C763.87,1150.42 766.46,1153.70 768.50,1156.70 C771.13,1160.57 772.86,1167.18 774.60,1172.00 C776.12,1176.22 777.10,1179.11 778.50,1184.00 C780.64,1191.50 783.13,1203.18 785.60,1212.80 C788.09,1222.51 790.38,1232.68 793.40,1242.00 C796.26,1250.84 799.23,1259.91 803.10,1267.40 C806.51,1273.99 810.21,1280.40 814.80,1284.90 C818.83,1288.86 822.79,1291.71 828.50,1293.70 C836.17,1296.37 845.19,1295.91 857.70,1296.60 C880.04,1297.83 920.10,1297.27 951.30,1297.60" stroke="#0000ff" stroke-width="2.35"/>
<path d="M114.30,1274.90 C116.77,1275.57 119.06,1276.04 121.70,1276.90 C124.85,1277.93 128.60,1279.35 131.90,1280.80 C135.13,1282.22 138.14,1284.12 141.30,1285.50 C144.37,1286.84 147.68,1288.09 150.60,1289.00 C153.10,1289.79 155.28,1290.75 157.70,1290.80 C160.21,1290.85 162.87,1290.42 165.40,1289.20 C168.52,1287.69 171.33,1283.16 174.60,1281.50 C177.51,1280.02 180.48,1279.70 183.80,1279.20 C187.60,1278.62 192.38,1278.77 196.20,1278.50 C199.50,1278.26 202.20,1278.61 205.40,1277.70 C209.30,1276.59 213.62,1273.67 217.70,1271.50 C221.82,1269.31 226.03,1266.83 230.00,1264.60 C233.72,1262.51 237.41,1259.05 240.80,1258.50 C243.50,1258.06 246.11,1258.73 248.50,1260.00 C251.31,1261.50 254.00,1265.32 256.20,1267.70 C257.97,1269.62 259.12,1271.79 260.80,1273.10 C262.23,1274.22 263.37,1274.60 265.40,1275.40 C268.99,1276.82 275.67,1278.47 280.80,1280.00 C285.93,1281.53 291.14,1282.71 296.20,1284.60 C301.37,1286.53 306.31,1289.69 311.50,1291.50 C316.55,1293.26 321.75,1294.23 326.90,1295.40 C332.02,1296.56 339.24,1296.89 342.30,1298.50 C343.90,1299.34 343.63,1300.70 345.40,1301.50 C349.89,1303.54 363.93,1303.30 373.10,1303.80 C382.13,1304.29 390.09,1304.43 400.00,1304.50 C412.23,1304.58 427.34,1304.33 441.00,1304.00 C454.67,1303.67 468.33,1303.00 482.00,1302.50 C495.67,1302.00 509.33,1301.67 523.00,1301.00 C536.70,1300.33 551.99,1299.66 564.10,1298.50 C573.74,1297.57 581.91,1296.63 590.00,1295.10 C597.27,1293.72 603.71,1292.03 610.50,1290.00 C617.38,1287.94 624.19,1285.36 631.00,1282.80 C637.86,1280.22 644.70,1277.49 651.50,1274.60 C658.36,1271.69 665.46,1267.87 672.00,1265.40 C677.73,1263.24 682.79,1261.34 688.50,1260.30 C694.40,1259.23 701.17,1259.96 706.90,1259.20 C712.02,1258.52 716.86,1258.08 721.30,1256.20 C725.76,1254.32 729.50,1250.65 733.60,1247.90 C737.70,1245.15 741.49,1241.91 745.90,1239.70 C750.38,1237.46 755.96,1234.33 760.30,1234.60 C764.05,1234.83 767.56,1237.45 770.50,1239.70 C773.38,1241.91 775.48,1244.68 777.80,1247.90 C780.57,1251.74 782.81,1256.84 785.60,1261.50 C788.62,1266.55 791.37,1272.53 795.30,1277.10 C799.19,1281.62 803.71,1285.75 809.00,1288.80 C814.67,1292.07 819.00,1293.95 828.50,1295.70 C851.64,1299.96 910.37,1297.63 951.30,1298.60" stroke="#ff00ff" stroke-width="2.35"/>
<path d="M114.40,1188.00 C115.03,1191.83 115.58,1195.79 116.30,1199.50 C116.99,1203.01 117.72,1206.26 118.60,1209.70 C119.51,1213.29 120.46,1217.22 121.70,1220.60 C122.83,1223.68 124.15,1226.44 125.60,1229.20 C127.02,1231.91 128.73,1234.40 130.30,1237.00 C131.87,1239.60 133.46,1242.12 135.00,1244.80 C136.60,1247.58 138.11,1250.61 139.70,1253.40 C141.24,1256.10 142.76,1258.87 144.40,1261.30 C145.91,1263.54 147.41,1265.55 149.10,1267.50 C150.78,1269.44 152.62,1271.40 154.50,1273.00 C156.26,1274.50 158.07,1276.07 160.00,1276.90 C161.76,1277.66 163.67,1277.94 165.50,1278.00 C167.30,1278.06 168.89,1277.74 170.90,1277.30 C173.56,1276.72 177.15,1275.08 180.00,1274.50 C182.43,1274.01 184.43,1273.97 186.90,1273.80 C189.77,1273.61 193.14,1273.99 196.20,1273.50 C199.31,1273.00 202.17,1272.07 205.40,1270.80 C209.27,1269.27 213.60,1266.65 217.70,1264.60 C221.80,1262.55 225.89,1260.05 230.00,1258.50 C233.83,1257.05 237.99,1255.19 241.50,1255.40 C244.58,1255.58 247.25,1257.11 250.00,1258.80 C253.18,1260.76 255.62,1264.60 259.20,1266.90 C263.19,1269.46 268.40,1271.54 273.10,1273.10 C277.63,1274.60 282.50,1274.77 286.90,1276.20 C291.19,1277.59 295.13,1279.60 299.20,1281.50 C303.33,1283.43 307.12,1285.73 311.50,1287.70 C316.30,1289.86 321.70,1292.26 326.90,1293.80 C331.97,1295.30 339.21,1295.52 342.30,1296.90 C343.83,1297.58 343.72,1298.51 345.40,1299.20 C349.93,1301.06 363.92,1301.99 373.10,1303.10 C382.12,1304.19 390.08,1305.25 400.00,1305.80 C412.22,1306.47 427.34,1306.48 441.00,1306.20 C454.67,1305.92 468.33,1304.78 482.00,1304.10 C495.67,1303.42 509.33,1302.95 523.00,1302.10 C536.70,1301.25 551.98,1300.11 564.10,1299.00 C573.73,1298.12 581.90,1297.45 590.00,1296.20 C597.26,1295.08 603.69,1293.64 610.50,1292.10 C617.35,1290.55 624.21,1288.95 631.00,1286.90 C637.88,1284.82 644.66,1282.08 651.50,1279.70 C658.33,1277.32 665.48,1274.33 672.00,1272.60 C677.74,1271.08 682.68,1270.34 688.50,1269.50 C694.94,1268.57 702.83,1268.59 709.00,1267.40 C714.24,1266.39 718.61,1265.11 723.30,1263.30 C728.18,1261.42 732.83,1258.17 737.70,1256.20 C742.43,1254.29 747.66,1252.43 752.10,1251.60 C755.75,1250.92 758.98,1250.31 762.30,1251.00 C765.83,1251.73 769.59,1253.76 772.60,1256.20 C775.81,1258.80 777.94,1263.19 780.80,1266.40 C783.58,1269.52 786.31,1272.27 789.50,1275.20 C793.04,1278.44 796.69,1282.10 801.20,1284.90 C806.26,1288.04 811.95,1290.90 818.70,1292.70 C827.06,1294.93 835.23,1295.02 848.00,1295.70 C871.91,1296.98 916.87,1296.03 951.30,1296.20" stroke="#008000" stroke-width="2.35"/>
<path d="M114.60,1296.20 C117.17,1294.40 119.29,1292.22 122.30,1290.80 C125.80,1289.15 130.61,1287.61 134.60,1287.40 C138.30,1287.21 141.82,1288.39 145.40,1289.20 C149.02,1290.02 152.71,1291.81 156.20,1292.30 C159.36,1292.74 162.41,1293.00 165.40,1292.30 C168.56,1291.55 171.39,1289.19 174.60,1287.70 C178.03,1286.11 181.72,1283.99 185.40,1283.10 C188.93,1282.24 192.38,1282.33 196.20,1282.30 C200.52,1282.27 205.29,1283.31 210.00,1283.10 C215.00,1282.87 220.41,1281.59 225.40,1280.80 C230.13,1280.05 235.04,1278.69 239.20,1278.50 C242.59,1278.35 245.26,1278.65 248.50,1279.20 C252.16,1279.83 255.56,1281.58 260.00,1282.30 C265.87,1283.25 274.41,1282.70 280.80,1283.50 C286.34,1284.20 291.14,1285.03 296.20,1286.50 C301.38,1288.01 306.34,1290.83 311.50,1292.50 C316.58,1294.15 321.73,1295.58 326.90,1296.50 C332.00,1297.40 339.25,1296.59 342.30,1298.00 C343.91,1298.75 343.63,1300.17 345.40,1301.00 C349.89,1303.11 363.92,1303.42 373.10,1304.00 C382.12,1304.57 390.09,1304.59 400.00,1304.50 C412.23,1304.39 427.34,1303.58 441.00,1303.00 C454.67,1302.42 468.33,1301.33 482.00,1301.00 C495.66,1300.67 509.33,1301.08 523.00,1301.00 C536.69,1300.92 552.00,1301.34 564.10,1300.50 C573.75,1299.83 580.99,1298.37 590.00,1297.20 C599.82,1295.92 610.54,1294.47 620.80,1293.10 C631.04,1291.73 641.82,1290.25 651.50,1289.00 C660.18,1287.88 668.79,1286.23 676.20,1285.90 C682.21,1285.63 687.14,1286.05 692.60,1286.50 C698.08,1286.95 703.22,1288.23 709.00,1288.60 C715.44,1289.01 722.68,1288.95 729.50,1288.60 C736.34,1288.25 743.54,1286.95 750.00,1286.50 C755.76,1286.10 761.37,1285.29 766.40,1285.90 C770.84,1286.44 775.23,1288.09 778.70,1289.40 C781.38,1290.41 782.88,1291.56 785.60,1292.70 C789.34,1294.26 794.18,1296.46 799.20,1297.60 C805.04,1298.93 809.29,1299.12 818.70,1299.60 C843.19,1300.85 907.10,1299.60 951.30,1299.60" stroke="#000080" stroke-width="2.35"/>
<path d="M114.30,1271.00 C116.00,1269.83 117.42,1268.29 119.40,1267.50 C121.64,1266.61 124.63,1266.05 127.20,1266.30 C129.83,1266.55 132.48,1267.80 135.00,1269.10 C137.69,1270.49 140.23,1272.58 142.80,1274.50 C145.44,1276.47 147.92,1279.00 150.60,1280.80 C153.13,1282.50 155.87,1284.19 158.40,1285.10 C160.55,1285.87 162.60,1286.57 164.70,1286.30 C166.97,1286.01 169.02,1284.09 171.50,1283.10 C174.33,1281.97 177.35,1280.66 180.80,1280.00 C184.90,1279.21 189.88,1279.09 194.60,1279.20 C199.60,1279.31 204.87,1280.80 210.00,1280.80 C215.13,1280.80 220.41,1279.73 225.40,1279.20 C230.13,1278.70 235.05,1277.75 239.20,1277.70 C242.60,1277.66 246.16,1278.07 248.50,1278.50 C249.96,1278.77 250.57,1279.07 252.00,1279.50 C254.27,1280.19 258.70,1282.67 260.80,1282.30 C262.14,1282.07 262.27,1280.41 263.80,1280.00 C267.06,1279.13 275.29,1281.37 280.80,1282.30 C286.07,1283.19 291.14,1283.90 296.20,1285.40 C301.38,1286.94 306.34,1289.82 311.50,1291.50 C316.57,1293.15 321.73,1294.50 326.90,1295.40 C332.00,1296.29 339.25,1295.46 342.30,1296.90 C343.92,1297.67 343.62,1299.14 345.40,1300.00 C349.89,1302.16 363.92,1302.49 373.10,1303.10 C382.12,1303.70 390.09,1303.78 400.00,1303.70 C412.23,1303.60 427.34,1302.72 441.00,1302.10 C454.67,1301.48 468.33,1300.28 482.00,1300.00 C495.66,1299.72 509.33,1300.40 523.00,1300.40 C536.69,1300.40 551.98,1300.25 564.10,1300.00 C573.73,1299.80 581.01,1299.94 590.00,1299.20 C599.84,1298.40 610.54,1296.47 620.80,1295.10 C631.04,1293.73 641.81,1291.96 651.50,1291.00 C660.17,1290.14 668.81,1289.37 676.20,1289.40 C682.23,1289.43 687.15,1289.99 692.60,1290.60 C698.08,1291.22 702.96,1292.64 709.00,1293.10 C716.35,1293.66 725.40,1293.17 733.60,1293.10 C741.80,1293.03 750.83,1292.54 758.20,1292.70 C764.22,1292.83 769.30,1292.85 774.60,1293.70 C779.73,1294.52 784.16,1296.63 789.50,1297.60 C795.52,1298.69 799.49,1299.10 809.00,1299.60 C834.61,1300.96 903.87,1299.93 951.30,1300.10" stroke="#8000ff" stroke-width="2.35"/>
</g>
<g stroke="#000" fill="none">
<line x1="113" y1="738.3" x2="953.5" y2="738.3" stroke-width="2.2"/>
<line x1="952.3" y1="737.2" x2="952.3" y2="1338" stroke-width="2.6"/>
<line x1="112.5" y1="1337" x2="953.5" y2="1337" stroke-width="2.4"/>
<line x1="114.2" y1="737.2" x2="114.2" y2="1348" stroke-width="2.8"/>
<line x1="100" y1="1279.4" x2="114" y2="1279.4" stroke-width="2.2"/>
<line x1="100" y1="1136.9" x2="114" y2="1136.9" stroke-width="2.2"/>
<line x1="100" y1="994.4" x2="114" y2="994.4" stroke-width="2.2"/>
<line x1="100" y1="851.9" x2="114" y2="851.9" stroke-width="2.2"/>
<line x1="106.5" y1="1208.2" x2="114" y2="1208.2" stroke-width="2.2"/>
<line x1="106.5" y1="1065.7" x2="114" y2="1065.7" stroke-width="2.2"/>
<line x1="106.5" y1="923.2" x2="114" y2="923.2" stroke-width="2.2"/>
<line x1="106.5" y1="780.7" x2="114" y2="780.7" stroke-width="2.2"/>
<line x1="393.3" y1="1337" x2="393.3" y2="1348" stroke-width="2.4"/>
<line x1="672.5" y1="1337" x2="672.5" y2="1348" stroke-width="2.4"/>
<line x1="951.6" y1="1337" x2="951.6" y2="1348" stroke-width="2.4"/>
<line x1="253.8" y1="1337" x2="253.8" y2="1342.5" stroke-width="2.4"/>
<line x1="532.9" y1="1337" x2="532.9" y2="1342.5" stroke-width="2.4"/>
<line x1="812.1" y1="1337" x2="812.1" y2="1342.5" stroke-width="2.4"/>
</g>
<text transform="translate(58.90,858.00) scale(1.1459,1)" font-size="19.71" font-family='"Liberation Sans", sans-serif' font-weight="bold" fill="#000">1.5</text>
<text transform="translate(59.50,1000.51) scale(1.1400,1)" font-size="19.44" font-family='"Liberation Sans", sans-serif' font-weight="bold" fill="#000">1.0</text>
<text transform="translate(58.10,1143.01) scale(1.1918,1)" font-size="19.44" font-family='"Liberation Sans", sans-serif' font-weight="bold" fill="#000">0.5</text>
<text transform="translate(58.10,1285.51) scale(1.1918,1)" font-size="19.44" font-family='"Liberation Sans", sans-serif' font-weight="bold" fill="#000">0.0</text>
<text transform="translate(93.02,1373.00) scale(1.2800,1)" font-size="20.00" font-family='"Liberation Sans", sans-serif' font-weight="bold" fill="#000">200</text>
<text transform="translate(372.16,1373.00) scale(1.2800,1)" font-size="20.00" font-family='"Liberation Sans", sans-serif' font-weight="bold" fill="#000">400</text>
<text transform="translate(651.30,1373.00) scale(1.2800,1)" font-size="20.00" font-family='"Liberation Sans", sans-serif' font-weight="bold" fill="#000">600</text>
<text transform="translate(930.44,1373.00) scale(1.2800,1)" font-size="20.00" font-family='"Liberation Sans", sans-serif' font-weight="bold" fill="#000">800</text>
<text transform="translate(401.05,1399.13) scale(1.1892,1)" font-size="25.56" font-family='"Liberation Sans", sans-serif' font-weight="bold" fill="#000">wavelength (nm)</text>
<text transform="translate(48.28,1068.90) rotate(-90) scale(0.8070,1)" font-size="31.97" font-family='"Liberation Sans", sans-serif' font-weight="bold" fill="#000">OD</text>
<text transform="translate(2.50,742.46) scale(0.9868,1)" font-size="38.79" font-family='"Liberation Serif", serif' font-weight="bold" fill="#000">(b)</text>
<line x1="813.3" y1="771.2" x2="859.6" y2="771.2" stroke="#000000" stroke-width="2.1"/>
<text transform="translate(865.30,776.74) scale(1.1660,1)" font-size="16.06" font-family='"Liberation Sans", sans-serif' font-weight="bold" fill="#000">MB STD</text>
<line x1="813.3" y1="793.3" x2="859.6" y2="793.3" stroke="#ff0000" stroke-width="2.1"/>
<text transform="translate(865.30,798.95) scale(1.2392,1)" font-size="15.10" font-family='"Liberation Sans", sans-serif' font-weight="bold" fill="#000">10 Min</text>
<line x1="813.3" y1="814.6" x2="859.6" y2="814.6" stroke="#0000ff" stroke-width="2.1"/>
<text transform="translate(870.30,820.15) scale(1.2670,1)" font-size="14.69" font-family='"Liberation Sans", sans-serif' font-weight="bold" fill="#000">20 Min</text>
<line x1="813.3" y1="836.5" x2="859.6" y2="836.5" stroke="#ff00ff" stroke-width="2.1"/>
<text transform="translate(870.30,841.95) scale(1.2440,1)" font-size="14.97" font-family='"Liberation Sans", sans-serif' font-weight="bold" fill="#000">30 Min</text>
<line x1="813.3" y1="858.4" x2="859.6" y2="858.4" stroke="#008000" stroke-width="2.1"/>
<text transform="translate(870.30,863.55) scale(1.2789,1)" font-size="14.56" font-family='"Liberation Sans", sans-serif' font-weight="bold" fill="#000">40 Min</text>
<line x1="813.3" y1="879.9" x2="859.6" y2="879.9" stroke="#000080" stroke-width="2.1"/>
<text transform="translate(870.30,885.45) scale(1.2218,1)" font-size="15.24" font-family='"Liberation Sans", sans-serif' font-weight="bold" fill="#000">50 Min</text>
<line x1="813.3" y1="901.4" x2="859.6" y2="901.4" stroke="#8000ff" stroke-width="2.1"/>
<text transform="translate(870.30,907.05) scale(1.2328,1)" font-size="15.10" font-family='"Liberation Sans", sans-serif' font-weight="bold" fill="#000">60 Min</text>
</svg>
</body></html>
